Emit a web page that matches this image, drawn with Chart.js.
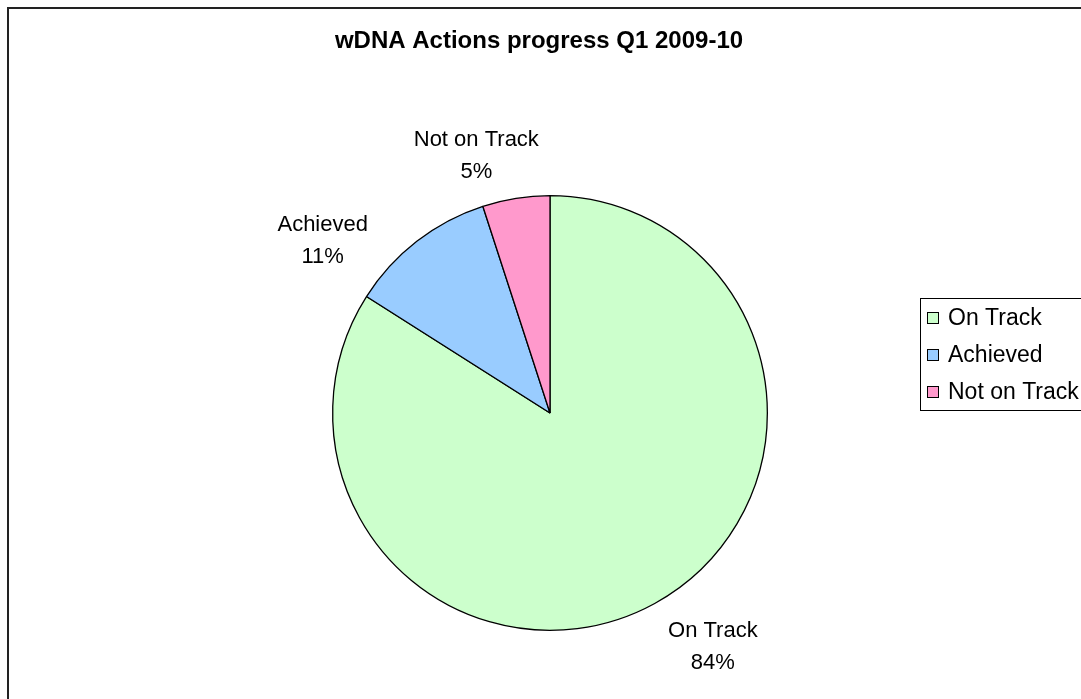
<!DOCTYPE html>
<html>
<head>
<meta charset="utf-8">
<script src="https://cdn.jsdelivr.net/npm/chart.js@4"></script>
<style>
    body { margin: 0; background: #ffffff; }
    #chart { display: block; }
</style>
</head>
<body>
<canvas id="chart" width="1081" height="699"></canvas>
<script>
/**
 * Data
 */
const categories = ['On Track', 'Achieved', 'Not on Track'];
const shares = [84, 11, 5];
const sliceColors = ['#CCFFCC', '#99CCFF', '#FF99CC'];
const chartTitle = 'wDNA Actions progress Q1 2009-10';

/**
 * Frame, title, outside labels and boxed legend
 */
const excelLook = {
    id: 'excelLook',
    afterDraw(chart) {
        const ctx = chart.ctx;
        const meta = chart.getDatasetMeta(0);
        const total = shares.reduce((a, b) => a + b, 0);
        // small per slice nudges (degrees / pixels beyond the rim)
        const nudges = [{angle: -6, dist: 68}, {angle: -15, dist: 68}, {angle: -7, dist: 50}];

        ctx.save();

        // chart frame
        ctx.strokeStyle = '#222222';
        ctx.lineWidth = 2;
        ctx.strokeRect(8, 8, 1200, 1200);

        // title
        ctx.fillStyle = '#000000';
        ctx.font = 'bold 24px "Liberation Sans", Arial, sans-serif';
        ctx.textAlign = 'center';
        ctx.textBaseline = 'middle';
        ctx.fillText(chartTitle, 539, 41);

        // labels outside the slices
        ctx.font = '22px "Liberation Sans", Arial, sans-serif';
        meta.data.forEach(function (arc, i) {
            const p = arc.getProps(['x', 'y', 'startAngle', 'endAngle', 'outerRadius'], true);
            const mid = (p.startAngle + p.endAngle) / 2 + nudges[i].angle * Math.PI / 180;
            const d = p.outerRadius + nudges[i].dist;
            const x = p.x + Math.cos(mid) * d;
            const y = p.y + Math.sin(mid) * d;
            const pct = Math.round(shares[i] / total * 100) + '%';
            ctx.fillText(categories[i], x, y - 16);
            ctx.fillText(pct, x, y + 16);
        });

        // legend
        const lx = 920, ly = 298, rowH = 37;
        ctx.strokeStyle = '#000000';
        ctx.lineWidth = 1;
        ctx.strokeRect(lx + 0.5, ly + 0.5, 300, rowH * categories.length + 1);
        ctx.textAlign = 'left';
        ctx.font = '23px "Liberation Sans", Arial, sans-serif';
        categories.forEach(function (label, i) {
            const cy = ly + 20 + i * rowH;
            ctx.fillStyle = sliceColors[i];
            ctx.fillRect(927, cy - 5, 11, 11);
            ctx.strokeStyle = '#000000';
            ctx.strokeRect(927.5, cy - 5.5, 11, 11);
            ctx.fillStyle = '#000000';
            ctx.fillText(label, 948, cy + 1);
        });

        ctx.restore();
    }
};

new Chart(document.getElementById('chart'), {
    type: 'pie',
    data: {
        labels: categories,
        datasets: [{
            data: shares,
            backgroundColor: sliceColors,
            borderColor: '#000000',
            borderWidth: 1.3
        }]
    },
    options: {
        responsive: false,
        animation: false,
        devicePixelRatio: 1,
        layout: {
            padding: {top: 195, bottom: 68, left: 19, right: 0}
        },
        plugins: {
            legend: {display: false},
            tooltip: {enabled: false},
            title: {display: false}
        }
    },
    plugins: [excelLook]
});
</script>
</body>
</html>
